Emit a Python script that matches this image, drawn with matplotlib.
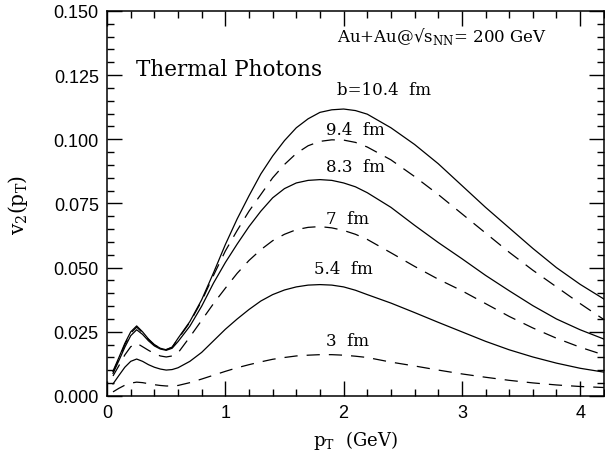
import numpy as np
import matplotlib.pyplot as plt
from matplotlib.ticker import MultipleLocator

plt.rcParams['lines.scale_dashes'] = False

pt = [0.05, 0.1, 0.15, 0.2, 0.25, 0.3, 0.35, 0.4, 0.45, 0.5, 0.55, 0.6, 0.7, 0.8, 0.9,
      1.0, 1.1, 1.2, 1.3, 1.4, 1.5, 1.6, 1.7, 1.8, 1.9, 2.0, 2.1, 2.2, 2.4, 2.6, 2.8,
      3.0, 3.2, 3.4, 3.6, 3.8, 4.0, 4.2]

v2_b104 = [0.0097, 0.0150, 0.0205, 0.0250, 0.0273, 0.0250, 0.0222, 0.0200, 0.0186, 0.0180, 0.0190, 0.0225,
           0.0290, 0.0375, 0.0480, 0.0590, 0.0690, 0.0780, 0.0865, 0.0935, 0.0995, 0.1045, 0.1080, 0.1105,
           0.1115, 0.1118, 0.1112, 0.1098, 0.1045, 0.0980, 0.0905, 0.0820, 0.0735, 0.0655, 0.0575, 0.0500,
           0.0435, 0.0378]
v2_b94 = [0.0093, 0.0145, 0.0200, 0.0245, 0.0268, 0.0247, 0.0220, 0.0199, 0.0186, 0.0181, 0.0190, 0.0222,
          0.0287, 0.0370, 0.0470, 0.0565, 0.0645, 0.0720, 0.0785, 0.0850, 0.0902, 0.0945, 0.0975, 0.0992,
          0.0998, 0.0997, 0.0988, 0.0970, 0.0920, 0.0855, 0.0785, 0.0710, 0.0635, 0.0560, 0.0490, 0.0425,
          0.0360, 0.0298]
v2_b83 = [0.0088, 0.0138, 0.0190, 0.0235, 0.0258, 0.0240, 0.0215, 0.0195, 0.0183, 0.0178, 0.0186, 0.0212,
          0.0272, 0.0350, 0.0440, 0.0520, 0.0592, 0.0660, 0.0720, 0.0772, 0.0808, 0.0830, 0.0840, 0.0843,
          0.0840, 0.0830, 0.0815, 0.0792, 0.0735, 0.0665, 0.0598, 0.0535, 0.0470, 0.0410, 0.0352, 0.0300,
          0.0258, 0.0222]
v2_b70 = [0.0078, 0.0118, 0.0160, 0.0192, 0.0206, 0.0192, 0.0178, 0.0165, 0.0156, 0.0152, 0.0156, 0.0168,
          0.0230, 0.0295, 0.0360, 0.0420, 0.0478, 0.0528, 0.0570, 0.0605, 0.0630, 0.0648, 0.0657, 0.0660,
          0.0655, 0.0645, 0.0630, 0.0610, 0.0558, 0.0505, 0.0455, 0.0410, 0.0360, 0.0310, 0.0265, 0.0225,
          0.0190, 0.0160]
v2_b54 = [0.0047, 0.0080, 0.0112, 0.0135, 0.0144, 0.0135, 0.0122, 0.0112, 0.0105, 0.0101, 0.0103, 0.0110,
          0.0135, 0.0170, 0.0215, 0.0260, 0.0300, 0.0337, 0.0370, 0.0395, 0.0413, 0.0425, 0.0432, 0.0434,
          0.0432, 0.0425, 0.0412, 0.0395, 0.0362, 0.0325, 0.0287, 0.0250, 0.0213, 0.0180, 0.0152, 0.0128,
          0.0108, 0.0093]
v2_b30 = [0.0016, 0.0030, 0.0042, 0.0050, 0.0054, 0.0052, 0.0048, 0.0044, 0.0041, 0.0039, 0.0039, 0.0041,
          0.0052, 0.0066, 0.0081, 0.0096, 0.0110, 0.0122, 0.0133, 0.0143, 0.0150, 0.0156, 0.0159, 0.0161,
          0.0161, 0.0159, 0.0155, 0.0150, 0.0132, 0.0117, 0.0101, 0.0086, 0.0073, 0.0061, 0.0051, 0.0043,
          0.0037, 0.0033]

curve_labels = ['b=10.4  fm', '9.4  fm', '8.3  fm', '7  fm', '5.4  fm', '3  fm']
label_pos = [(1.94, 0.1196), (1.85, 0.104), (1.85, 0.0896), (1.85, 0.0692), (1.75, 0.0495), (1.85, 0.0218)]

fig = plt.figure(figsize=(6.05, 4.52), dpi=100)
ax = fig.add_axes([0.177, 0.1217, 0.821, 0.8518])

serif = 'DejaVu Serif'
sans = 'Liberation Sans'
dash = (0, (9.5, 6.5))
lw = 0.9

ax.plot(pt, v2_b104, color='black', lw=lw)
ax.plot(pt, v2_b94, color='black', lw=lw, linestyle=dash)
ax.plot(pt, v2_b83, color='black', lw=lw)
ax.plot(pt, v2_b70, color='black', lw=lw, linestyle=dash)
ax.plot(pt, v2_b54, color='black', lw=lw)
ax.plot(pt, v2_b30, color='black', lw=lw, linestyle=dash)

for lab, (x, y) in zip(curve_labels, label_pos):
    ax.text(x, y, lab, fontsize=12, family=serif, ha='left', va='center')

ax.text(0.245, 0.1275, 'Thermal Photons', fontsize=15.5, family=serif, va='center')
ax.text(1.94, 0.1405, 'Au+Au@√s$_{\\mathregular{NN}}$= 200 GeV', fontsize=12, family=serif, va='center')

ax.set_xlim(0, 4.2)
ax.set_ylim(0, 0.15)
ax.xaxis.set_major_locator(MultipleLocator(1))
ax.xaxis.set_minor_locator(MultipleLocator(0.2))
ax.yaxis.set_major_locator(MultipleLocator(0.025))
ax.yaxis.set_minor_locator(MultipleLocator(0.005))
ax.yaxis.set_major_formatter(plt.FormatStrFormatter('%.3f'))
ax.tick_params(which='both', direction='in', top=True, right=True, width=1)
ax.tick_params(which='major', length=11, labelsize=13, pad=6, labelfontfamily=sans)
ax.tick_params(which='minor', length=5)
for s in ax.spines.values():
    s.set_linewidth(1.1)

ax.set_xlabel(r'p$_\mathregular{T}$  (GeV)', fontsize=13, family=serif, labelpad=5)
ax.set_ylabel(r'v$_\mathregular{2}$(p$_\mathregular{T}$)', fontsize=14.5, family=serif, labelpad=17)

fig.savefig('out.png', dpi=100)
